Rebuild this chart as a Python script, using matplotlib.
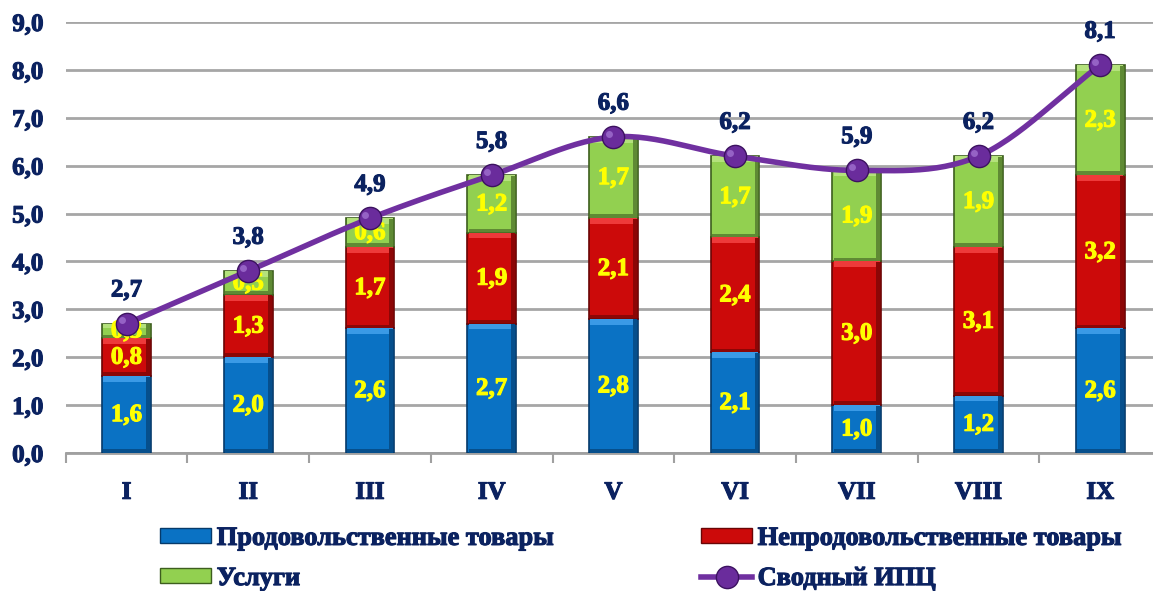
import numpy as np
import matplotlib
matplotlib.use('Agg')
from matplotlib import pyplot as plt
from matplotlib.patches import Patch
from matplotlib.lines import Line2D
import matplotlib.patheffects as pe

months = ['I', 'II', 'III', 'IV', 'V', 'VI', 'VII', 'VIII', 'IX']
food = [1.6, 2.0, 2.6, 2.7, 2.8, 2.1, 1.0, 1.2, 2.6]
nonfood = [0.8, 1.3, 1.7, 1.9, 2.1, 2.4, 3.0, 3.1, 3.2]
services = [0.3, 0.5, 0.6, 1.2, 1.7, 1.7, 1.9, 1.9, 2.3]
cpi = [2.7, 3.8, 4.9, 5.8, 6.6, 6.2, 5.9, 6.2, 8.1]

navy = '#0b2260'
yellow = '#ffff00'
plt.rcParams['font.family'] = ['Liberation Serif', 'DejaVu Serif']
plt.rcParams['font.weight'] = 'bold'

def fmt(v):
    return ('%.1f' % v).replace('.', ',')

def heavy(c):
    # thicken the glyphs a bit, the original text is very heavy
    return [pe.withStroke(linewidth=0.8, foreground=c)]

# smooth curve through the points (Catmull-Rom), like Excel's smoothed line
def smooth(xs, ys, n=30):
    p = np.column_stack([xs, ys]).astype(float)
    p = np.vstack([2 * p[0] - p[1], p, 2 * p[-1] - p[-2]])
    out = []
    t = np.linspace(0, 1, n)[:, None]
    for i in range(1, len(p) - 2):
        p0, p1, p2, p3 = p[i - 1], p[i], p[i + 1], p[i + 2]
        seg = 0.5 * ((2 * p1) + (-p0 + p2) * t + (2 * p0 - 5 * p1 + 4 * p2 - p3) * t ** 2
                     + (-p0 + 3 * p1 - 3 * p2 + p3) * t ** 3)
        out.append(seg)
    out = np.vstack(out)
    return out[:, 0], out[:, 1]

fig = plt.figure(figsize=(11.53, 5.91), dpi=100)
ax = fig.add_axes([0.057, 0.2335, 0.950, 0.7293])

x = np.arange(len(months))
w = 0.40
food = np.array(food)
nonfood = np.array(nonfood)
services = np.array(services)

segs = [(np.zeros(9), food, '#0a72c4', '#063a6a', '#3a9ae6', '#064f8c'),
        (food, nonfood, '#cc0a0a', '#6a0505', '#ee3a3a', '#8c0606'),
        (food + nonfood, services, '#92d050', '#3d5e1e', '#b4e27c', '#5f8a34')]

for bottoms, vals, face, edge, hi, lo in segs:
    ax.bar(x, vals, w, bottom=bottoms, color=face, edgecolor=edge, linewidth=1.2, zorder=3)
    # bevel: light band on top, dark bands at bottom and right
    band = np.minimum(vals * 0.3, 0.12)
    ax.bar(x, band, w * 0.95, bottom=bottoms + vals - band, color=hi, linewidth=0, zorder=3.5)
    ax.bar(x, band * 0.6, w * 0.95, bottom=bottoms + 0.01, color=lo, linewidth=0, zorder=3.5)
    ax.bar(x + w * 0.44, vals - 0.02, w * 0.08, bottom=bottoms + 0.01, color=lo,
           linewidth=0, zorder=3.6)

for i in range(len(x)):
    for bottoms, vals, *_ in segs:
        ax.text(x[i], bottoms[i] + vals[i] / 2, fmt(vals[i]), ha='center', va='center',
                color=yellow, fontsize=18, fontweight='bold', zorder=6,
                path_effects=heavy(yellow))

sx, sy = smooth(x, cpi)
ax.plot(sx, sy, color='#7030a0', lw=4, zorder=7, solid_capstyle='round')
ax.plot(x, cpi, 'o', color='#6a2c9c', markersize=16, markeredgecolor='#3c1260',
        markeredgewidth=1, zorder=8)
ax.plot(x - 0.04, np.array(cpi) + 0.07, 'o', color='#a070d0', markersize=5,
        markeredgewidth=0, zorder=9, alpha=0.8)
for i in range(len(x)):
    ax.annotate(fmt(cpi[i]), (x[i], cpi[i]), xytext=(0, 16), textcoords='offset points',
                ha='center', va='bottom', color=navy, fontsize=18, fontweight='bold', zorder=9,
                path_effects=heavy(navy))

ax.set_xlim(-0.5, 8.5)
ax.set_ylim(0, 9)
ax.set_yticks(np.arange(0, 9.1, 1))
ax.set_yticklabels([fmt(v) for v in np.arange(0, 9.1, 1)])
ax.set_xticks(x)
ax.set_xticklabels(months)
ax.set_xticks(np.arange(-0.5, 8.6, 1), minor=True)
ax.tick_params(axis='x', which='major', length=0, pad=20, labelsize=18, labelcolor=navy)
ax.tick_params(axis='x', which='minor', length=7, width=1.5, color='#a0a0a0', direction='out')
ax.tick_params(axis='y', length=0, pad=16, labelsize=18, labelcolor=navy)
for t in ax.get_xticklabels() + ax.get_yticklabels():
    t.set_path_effects(heavy(navy))
ax.grid(axis='y', color='#a6a6a6', lw=2, zorder=0)
ax.set_axisbelow(True)
for s in ['top', 'right', 'left']:
    ax.spines[s].set_visible(False)
ax.spines['bottom'].set_color('#a0a0a0')
ax.spines['bottom'].set_linewidth(2)

handles = [
    Patch(facecolor='#0a72c4', edgecolor='#063a6a', label='Продовольственные товары'),
    Patch(facecolor='#92d050', edgecolor='#3d5e1e', label='Услуги'),
    Patch(facecolor='#cc0a0a', edgecolor='#6a0505', label='Непродовольственные товары'),
    Line2D([], [], color='#7030a0', lw=4, marker='o', markersize=16,
           markerfacecolor='#6a2c9c', markeredgecolor='#3c1260', label='Сводный ИПЦ'),
]
leg = fig.legend(handles=handles, ncol=2, loc='center left', bbox_to_anchor=(160 / 1153, 0.055),
                 frameon=False, fontsize=19, handlelength=1.95, handleheight=0.5,
                 columnspacing=5.6, labelspacing=0.65, handletextpad=0.2,
                 borderpad=0, borderaxespad=0)
for t in leg.get_texts():
    t.set_color(navy)
    t.set_fontweight('bold')
    t.set_path_effects(heavy(navy))

fig.savefig('out.png', dpi=100)
